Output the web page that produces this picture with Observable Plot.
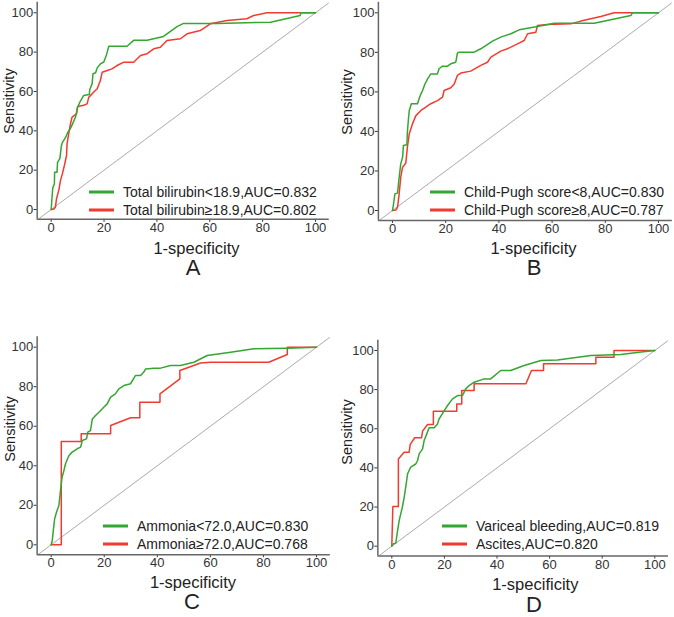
<!DOCTYPE html>
<html>
<head>
<meta charset="utf-8">
<script src="https://cdn.jsdelivr.net/npm/d3@7"></script>
<script src="https://cdn.jsdelivr.net/npm/@observablehq/plot@0.6"></script>
<style>
  html, body { margin: 0; padding: 0; background: #fff; }
  #wrap { position: relative; width: 674px; height: 617px; overflow: hidden; font-family: "Liberation Sans", Arial, sans-serif; }
  .panel { position: absolute; }
  .lbl { position: absolute; white-space: nowrap; color: #222; transform: translate(-50%, -50%); line-height: 1; }
  .ylbl { transform: translate(-50%, -50%) rotate(-90deg); }
  .leg { position: absolute; white-space: nowrap; font-size: 14px; color: #222; line-height: 1; transform: translateY(-50%); }
  .sw { position: absolute; height: 3px; transform: translateY(-50%); }
  svg text { font-family: "Liberation Sans", Arial, sans-serif; }
</style>
</head>
<body>
<div id="wrap"></div>
<script>
// ---------- data (1-specificity %, sensitivity %) ----------
const bilirubinLow = [[0,0],[0.3,6],[0.6,11],[1.2,13],[1.3,19],[2.2,19],[2.4,24],[3.3,26],[3.8,32],[4.2,34],[5.4,36.5],[6.2,39],[7.2,41],[7.9,43],[9.2,47],[10,52],[11,55],[12.3,58],[14.4,58.5],[14.6,61],[15.5,64],[15.8,69],[16.8,69.5],[17.4,72],[18.6,74],[19.9,75],[20.9,78.6],[21.8,83],[28.7,83],[31.2,86],[36.3,86],[42.5,88],[47.6,93],[50.1,94.6],[62.7,94.6],[83,95.2],[94.2,98.6],[94.5,100],[100,100]];
const bilirubinHigh = [[0,0],[1,0.3],[1.6,1.2],[2,5.4],[2.9,10],[3.5,14.7],[4.2,18],[5.1,23],[5.8,27.5],[6,33.4],[6.4,36.8],[7.3,43.6],[7.9,47],[9.6,48.6],[10,52.4],[12.3,53],[13.6,53.7],[14.2,57],[16.1,59.7],[17.4,61.4],[18.6,65.6],[19.3,69.8],[21.2,70.7],[23,71.5],[24.9,73.2],[27.5,74.9],[31.2,74.9],[33.8,78.3],[36.3,79.2],[38.8,81.7],[41.3,82.5],[43.8,85.9],[48.9,86.8],[51.4,89.3],[56.4,91],[60.2,94.4],[66.5,96.1],[74,97],[76.6,98.6],[81.6,100],[100,100]];
const childPughLow = [[0,0],[0.4,3.4],[0.9,8.4],[1.9,8.8],[2.3,14.3],[3.1,23.6],[3.8,27],[4.1,32.9],[5.4,33.2],[5.6,39.6],[6,46.4],[6.3,50.6],[7.1,54],[9.4,54],[10,56.5],[10.7,59],[11.3,60.7],[12.2,64],[13.2,66.6],[14.4,69.1],[16.9,69.1],[17.5,71.7],[18.8,73],[20.7,73],[21.9,74.2],[23.8,75],[24.4,79.6],[25,80.1],[30.7,80.1],[33.2,81.8],[37.6,85.7],[40.7,87.7],[44.5,89.4],[47.6,91.4],[54.5,93.1],[60.8,94.7],[75.8,94.7],[89.6,98.6],[90.2,100],[100,100]];
const childPughHigh = [[0,0],[1.3,0.3],[1.9,1.7],[2.5,8.4],[3.1,16.9],[3.8,21.9],[5,24],[5.6,32],[6.3,38.8],[7.5,43.8],[8.8,48],[10.7,50.6],[12.5,52.3],[14.4,54],[16.9,55.6],[18.8,57.3],[19.4,60.7],[21.9,62.1],[23.2,64],[24.4,68.3],[25.7,69.5],[29.4,70.5],[33.2,73.4],[35.7,75],[37,77.6],[40.7,80.6],[43.2,81.8],[47,84.3],[49.5,86],[50.8,89.4],[53.9,90.2],[54.5,93.6],[58.3,94.1],[67,94.4],[70.8,95.8],[78.3,98.1],[83.3,100],[90.2,100],[100,100]];
const ammoniaLow = [[0,0],[0.4,2.2],[0.8,7.3],[1.3,13.2],[2,16.5],[2.9,19.9],[3.5,27.5],[4.1,34.2],[4.8,37.6],[5.4,41],[6.7,45.2],[7.9,46.9],[9.8,48.6],[11.1,49.4],[11.7,52.8],[13.3,53.6],[13.8,57],[14.8,57.8],[15.5,63.7],[16.7,65.4],[18,67.1],[19.8,69.6],[21.1,71.3],[22.4,74.7],[24.2,76.4],[25.5,78.9],[27.4,80.6],[29.9,81.5],[31.8,85.7],[33.7,85.7],[34.9,87.4],[35.6,89],[38.7,89.4],[41.2,89.4],[45,90.7],[48.7,90.7],[53.8,92.4],[58.8,95.8],[67.6,97.5],[76.4,99.2],[88.9,99.5],[100,100]];
const ammoniaHigh = [[0,0],[3.8,0],[3.8,52.3],[11.3,52.3],[11.3,56.2],[22.4,56.2],[22.4,60.4],[29.9,64.3],[33.4,64.3],[33.4,72.2],[41,72.2],[41,76.4],[48.5,84],[48.5,88.2],[56.3,92],[60,92.4],[82,92.4],[89,96.3],[89,100],[100,100]];
const varicealBleeding = [[0,0],[0.6,1.2],[1.5,1.5],[2.2,8],[2.8,13.1],[3.4,16.5],[4,19.9],[4.7,25],[5.3,30.2],[6,37],[7.2,40.4],[9.1,42],[9.8,43.8],[10.4,47.2],[11.7,49.7],[12.3,54],[13.3,57.4],[14.2,60.5],[16.1,60.5],[17.4,62.5],[18,65.1],[19.6,68.5],[21.2,71.9],[23.1,75.3],[25,77],[26.9,77],[28.1,80.4],[29.4,82.1],[31.3,83.8],[35.1,85.5],[37.6,85.5],[41.4,89.8],[45.2,89.8],[50.3,92.3],[56.7,94.9],[63,95.2],[75.7,97.4],[87.1,97.9],[94,99.1],[100,100]];
const ascites = [[0,0],[0.4,20.3],[2.5,20.3],[2.5,44.6],[4.7,48],[6.6,48],[7,52],[8.7,55.4],[11.3,55.4],[11.7,58.8],[13.6,62.2],[15.8,62.2],[15.8,69],[24.7,69],[24.7,72.7],[26.6,72.7],[26.6,79.6],[31.3,79.6],[31.3,83],[51,83],[53.1,89.8],[57.7,89.8],[57.7,93.2],[77.6,93.2],[77.6,96.6],[84.5,96.6],[84.5,100],[94,100],[100,100]];

const tickValues = [0, 20, 40, 60, 80, 100];
const panelLetters = ["A", "B", "C", "D"];
const legendLabels = [
  ["Total bilirubin<18.9,AUC=0.832", "Total bilirubin≥18.9,AUC=0.802"],
  ["Child-Pugh score<8,AUC=0.830", "Child-Pugh score≥8,AUC=0.787"],
  ["Ammonia<72.0,AUC=0.830", "Ammonia≥72.0,AUC=0.768"],
  ["Variceal bleeding,AUC=0.819", "Ascites,AUC=0.820"]
];
const seriesData = [
  [bilirubinLow, bilirubinHigh],
  [childPughLow, childPughHigh],
  [ammoniaLow, ammoniaHigh],
  [varicealBleeding, ascites]
];
const xTitle = "1-specificity";
const yTitle = "Sensitivity";

// ---------- layout ----------
const GREEN = "#35a632";
const RED = "#f23b30";
const xDomain = [-5.3, 105.2];
const yDomain = [-5, 105.3];
// page positions of ticks 0 and 100 per panel
const layout = [
  {left: 0,   top: 0,   h: 300, x0: 50.7,  x100: 315,   y0: 209,   y100: 12.3,  legX: 89,  legY: [192.3, 210],   ttl: [196.5, 247.5], let: [193, 268],   yt: [9, 101]},
  {left: 337, top: 0,   h: 300, x0: 392,   x100: 658,   y0: 210,   y100: 12.3,  legX: 430, legY: [192.3, 210],   ttl: [533.5, 247.5], let: [534, 268],   yt: [347, 102]},
  {left: 0,   top: 300, h: 317, x0: 50.7,  x100: 316,   y0: 544.3, y100: 346.7, legX: 103, legY: [525.7, 544.3], ttl: [193, 582],     let: [192, 602],   yt: [10, 429]},
  {left: 337, top: 300, h: 317, x0: 391.3, x100: 654.3, y0: 545.7, y100: 350,   legX: 442, legY: [526, 544.3],   ttl: [535.3, 583.5], let: [534, 605],   yt: [347, 432]}
];

const wrap = document.getElementById("wrap");

layout.forEach((L, i) => {
  const sx = (L.x100 - L.x0) / 100;
  const sy = (L.y0 - L.y100) / 100;
  const leftPx = L.x0 + xDomain[0] * sx;
  const rightPx = L.x0 + xDomain[1] * sx;
  const bottomPx = L.y0 - yDomain[0] * sy;
  const topPx = L.y0 - yDomain[1] * sy;
  const W = 337;
  const [s1, s2] = seriesData[i];
  const plot = Plot.plot({
    width: W,
    height: L.h,
    marginLeft: leftPx - L.left,
    marginRight: L.left + W - rightPx,
    marginTop: topPx - L.top,
    marginBottom: L.top + L.h - bottomPx,
    style: {fontSize: "13px", fontFamily: "Liberation Sans, Arial, sans-serif", color: "#333", background: "transparent"},
    x: {domain: xDomain, ticks: tickValues, label: null, tickSize: 3, tickPadding: 0.5},
    y: {domain: yDomain, ticks: tickValues, label: null, tickSize: 3, tickPadding: 1},
    marks: [
      Plot.line(xDomain, {x: d => d, y: d => d, stroke: "#aaa", strokeWidth: 1, clip: true}),
      Plot.ruleX([xDomain[0]], {stroke: "#666", strokeWidth: 1.5}),
      Plot.ruleY([yDomain[0]], {stroke: "#666", strokeWidth: 1.5}),
      Plot.line(s2, {x: d => d[0], y: d => d[1], stroke: RED, strokeWidth: 1.5}),
      Plot.line(s1, {x: d => d[0], y: d => d[1], stroke: GREEN, strokeWidth: 1.5})
    ]
  });
  plot.classList.add("panel");
  plot.style.left = L.left + "px";
  plot.style.top = L.top + "px";
  wrap.appendChild(plot);

  // legend
  [GREEN, RED].forEach((c, k) => {
    const sw = document.createElement("div");
    sw.className = "sw";
    sw.style.left = L.legX + "px";
    sw.style.width = "25px";
    sw.style.top = L.legY[k] + "px";
    sw.style.background = c;
    wrap.appendChild(sw);
    const t = document.createElement("div");
    t.className = "leg";
    t.style.left = (L.legX + 34) + "px";
    t.style.top = L.legY[k] + "px";
    t.textContent = legendLabels[i][k];
    wrap.appendChild(t);
  });

  const xt = document.createElement("div");
  xt.className = "lbl";
  xt.style.fontSize = "16.5px";
  xt.style.left = L.ttl[0] + "px";
  xt.style.top = L.ttl[1] + "px";
  xt.textContent = xTitle;
  wrap.appendChild(xt);

  const yt = document.createElement("div");
  yt.className = "lbl ylbl";
  yt.style.fontSize = "14.5px";
  yt.style.left = L.yt[0] + "px";
  yt.style.top = L.yt[1] + "px";
  yt.textContent = yTitle;
  wrap.appendChild(yt);

  const lt = document.createElement("div");
  lt.className = "lbl";
  lt.style.fontSize = "22px";
  lt.style.left = L.let[0] + "px";
  lt.style.top = L.let[1] + "px";
  lt.textContent = panelLetters[i];
  wrap.appendChild(lt);
});
</script>
</body>
</html>
